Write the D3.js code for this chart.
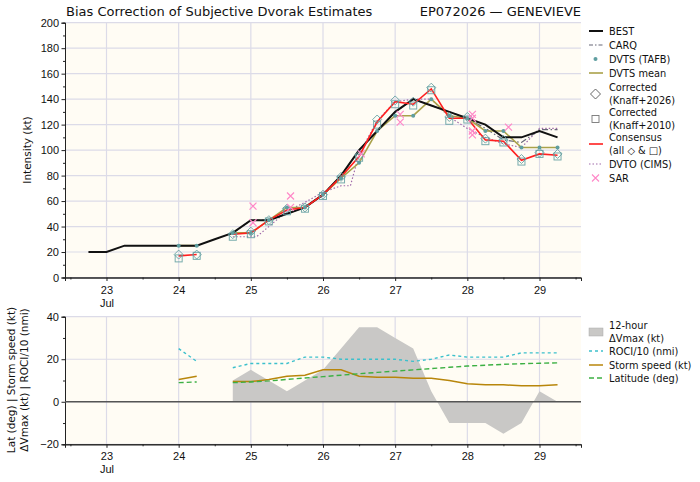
<!DOCTYPE html>
<html><head><meta charset="utf-8">
<script src="https://cdn.jsdelivr.net/npm/d3@7"></script>
<style>
body{margin:0;background:#fff;}
svg{display:block;font-family:"DejaVu Sans",sans-serif;}
</style></head><body>
<svg id="c" width="700" height="482"></svg>
<script>
// ---------------- DATA ----------------
const tickDays = [23, 24, 25, 26, 27, 28, 29];
const tickLabels = ["23\nJul", "24", "25", "26", "27", "28", "29"];
const intensityTicks = [0, 20, 40, 60, 80, 100, 120, 140, 160, 180, 200];
const lowerTicks = [-20, 0, 20, 40];

const bestDays = [22.75,23,23.25,23.5,23.75,24,24.25,24.5,24.75,25,25.25,25.5,25.75,26,26.25,26.5,26.75,27,27.25,27.5,27.75,28,28.25,28.5,28.75,29,29.25];
const best = [20,20,25,25,25,25,25,30,35,45,45,50,55,65,80,100,115,130,140,135,130,125,120,110,110,115,110];

const carqDays = [24.75,25,25.25,25.5,25.75,26,26.25,26.5,26.75,27,27.25,27.5,27.75,28,28.25,28.5,28.75,29,29.25];
const carq = [35,45,45,50,55,65,80,100,115,130,140,135,130,125,117,108,106,116,116];

const fixDays = [24,24.25,24.5,24.75,25,25.25,25.5,25.75,26,26.25,26.5,26.75,27,27.25,27.5,27.75,28,28.25,28.5,28.75,29,29.25];
const dvtsTafb = [25,25,null,35,35,45,55,55,65,78,90,115,127,127,140,127,125,115,115,102,102,102];
const dvtsMean = [25,25,null,35,35,45,55,55,65,78,90,115,127,127,140,127,125,115,115,102,102,102];
const knaff2026 = [18,18,null,34,36,45,54,55,65,79,96,124,139,138,149,126,126,109,108,93,98,97];
const knaff2010 = [15,17,null,32,34,44,52,54,64,77,94,120,136,135,147,123,124,107,106,91,97,95];
const consensus = [17,18,null,34,35,45,53,55,65,79,95,122,138,136,148,125,125,108,107,92,97,96];

const dvtoDays = [24.75,25.08,25.25,25.5,25.75,26,26.25,26.38,26.5,26.75,27,27.25,27.5,27.75,28,28.25,28.5,28.75,29,29.25];
const dvto = [32,32,40,52,59,67,72,72,97,123,138,140,140,126,117,110,105,102,117,117];

const sarDays = [25.03,25.03,25.55,25.55,26.53,27.07,27.07,28.07,28.07,28.07,28.07,28.57];
const sar = [56,43,64,55,97,128,122,128,125,115,112,118];

const dvDays = [24.75,25,25.25,25.5,25.75,26,26.25,26.5,26.75,27,27.25,27.5,27.75,28,28.25,28.5,28.75,29,29.25];
const dVmax12 = [10,15,10,5,10,15,25,35,35,30,25,5,-10,-10,-10,-15,-10,5,0];

const roci10 = [25,19,null,16,18,18,18,21,21,20,20,20,20,19,20,22,21,21,21,23,23,23];
const stormSpeed = [10.5,12,null,9.5,9.5,10.5,12,12.5,15,15,12,11.5,11.5,11,11,10,8.5,8,8,7.5,7.5,8];
const latitude = [9,9.3,null,9,9.3,9.8,10.5,11.2,11.8,12.5,13.2,13.8,14.4,15,15.6,16.2,16.8,17.2,17.6,17.9,18.1,18.3];

// ---------------- STYLE ----------------
const C = {
  bg: "#fffcf4", grid: "#dcdbe8", best: "#111111", carq: "#666677",
  teal: "#5f9ea0", olive: "#aaa24a", red: "#ff2020", dvto: "#a06aaa", sar: "#ff88c8",
  area: "#c9c8c6", roci: "#3cc0cc", speed: "#b8860b", lat: "#3cb043"
};

const svg = d3.select("#c");
const L = 65, R = 581;
const x = d3.scaleLinear().domain([22.425, 29.575]).range([L, R]);
const yTop = d3.scaleLinear().domain([0, 200]).range([277.5, 22.7]);
const yBot = d3.scaleLinear().domain([-20, 40]).range([444.3, 316.7]);

function panel(y, ticks, minorStep, labelY) {
  const [y0, y1] = y.range();
  svg.append("rect").attr("x", L).attr("y", y1).attr("width", R - L).attr("height", y0 - y1).attr("fill", C.bg);
  const g = svg.append("g");
  tickDays.forEach(d => g.append("line").attr("x1", x(d)).attr("x2", x(d)).attr("y1", y1).attr("y2", y0).attr("stroke", C.grid).attr("stroke-width", 1.2));
  ticks.forEach(v => g.append("line").attr("x1", L).attr("x2", R).attr("y1", y(v)).attr("y2", y(v)).attr("stroke", C.grid).attr("stroke-width", 1.2));
  const xa = d3.axisBottom(x).tickValues(tickDays).tickSize(3.5).tickFormat("");
  const xm = d3.axisBottom(x).tickValues(d3.range(22.5, 29.6, 1)).tickSize(2).tickFormat("");
  const ya = d3.axisLeft(y).tickValues(ticks).tickSize(3.5).tickFormat(d => d < 0 ? "\u2212" + Math.abs(d) : d);
  const ymv = d3.range(y.domain()[0], y.domain()[1] + 0.01, minorStep).filter(v => !ticks.includes(v));
  const ym = d3.axisLeft(y).tickValues(ymv).tickSize(2).tickFormat("");
  const gx = svg.append("g").attr("transform", `translate(0,${y0})`).call(xa);
  svg.append("g").attr("transform", `translate(0,${y0})`).call(xm);
  const gy = svg.append("g").attr("transform", `translate(${L},0)`).call(ya);
  svg.append("g").attr("transform", `translate(${L},0)`).call(ym);
  svg.selectAll(".domain").attr("stroke", "#222").attr("stroke-width", 1);
  svg.selectAll(".tick line").attr("stroke", "#222");
  gy.selectAll("text").attr("font-size", 11).attr("fill", "#111").attr("x", -6);
  gx.selectAll(".tick").each(function(d, i) {
    const lines = tickLabels[i].split("\n");
    const t = d3.select(this).append("text").attr("fill", "#111").attr("font-size", 11).attr("text-anchor", "middle");
    lines.forEach((s, k) => t.append("tspan").attr("x", 0).attr("y", labelY + k * 13).text(s));
  });
}

panel(yTop, intensityTicks, 10, 16);
panel(yBot, lowerTicks, 10, 16);

// ---------------- TOP PANEL ----------------
const lineT = () => d3.line().defined(d => d[1] != null).x(d => x(d[0])).y(d => yTop(d[1]));
const zip = (a, b) => a.map((v, i) => [v, b[i]]);
const gTop = svg.append("g");

gTop.append("path").datum(zip(dvtoDays, dvto)).attr("d", lineT()).attr("fill", "none")
  .attr("stroke", C.dvto).attr("stroke-width", 1.2).attr("stroke-dasharray", "1.5,2");
gTop.append("path").datum(zip(carqDays, carq)).attr("d", lineT()).attr("fill", "none")
  .attr("stroke", C.carq).attr("stroke-width", 1.2).attr("stroke-dasharray", "6,2.5,1.5,2.5");
gTop.append("path").datum(zip(fixDays, dvtsMean)).attr("d", lineT()).attr("fill", "none")
  .attr("stroke", C.olive).attr("stroke-width", 1.6);
gTop.append("path").datum(zip(bestDays, best)).attr("d", lineT()).attr("fill", "none")
  .attr("stroke", C.best).attr("stroke-width", 2);
gTop.append("path").datum(zip(fixDays, consensus)).attr("d", lineT()).attr("fill", "none")
  .attr("stroke", C.red).attr("stroke-width", 1.6);

zip(fixDays, knaff2010).filter(d => d[1] != null).forEach(d => {
  gTop.append("rect").attr("x", x(d[0]) - 3.5).attr("y", yTop(d[1]) - 3.5).attr("width", 7).attr("height", 7)
    .attr("fill", "none").attr("stroke", C.teal).attr("stroke-opacity", 0.85).attr("stroke-width", 1);
});
zip(fixDays, knaff2026).filter(d => d[1] != null).forEach(d => {
  gTop.append("path").attr("d", "M0,-4.5L4.5,0L0,4.5L-4.5,0Z").attr("transform", `translate(${x(d[0])},${yTop(d[1])})`)
    .attr("fill", "none").attr("stroke", C.teal).attr("stroke-opacity", 0.85).attr("stroke-width", 1);
});
zip(fixDays, dvtsTafb).filter(d => d[1] != null).forEach(d => {
  gTop.append("circle").attr("cx", x(d[0])).attr("cy", yTop(d[1])).attr("r", 2).attr("fill", C.teal);
});
zip(sarDays, sar).forEach(d => {
  const cx = x(d[0]), cy = yTop(d[1]);
  gTop.append("path").attr("d", `M${cx-3.5},${cy-3.5}L${cx+3.5},${cy+3.5}M${cx-3.5},${cy+3.5}L${cx+3.5},${cy-3.5}`)
    .attr("stroke", C.sar).attr("stroke-width", 1.2);
});

// ---------------- BOTTOM PANEL ----------------
const gBot = svg.append("g");
gBot.append("path").datum(zip(dvDays, dVmax12))
  .attr("d", d3.area().x(d => x(d[0])).y0(yBot(0)).y1(d => yBot(d[1])))
  .attr("fill", C.area).attr("stroke", "none");
gBot.append("line").attr("x1", L).attr("x2", R).attr("y1", yBot(0)).attr("y2", yBot(0)).attr("stroke", "#555").attr("stroke-width", 1.3);
const lineB = d3.line().defined(d => d[1] != null).x(d => x(d[0])).y(d => yBot(d[1]));
gBot.append("path").datum(zip(fixDays, roci10)).attr("d", lineB).attr("fill", "none")
  .attr("stroke", C.roci).attr("stroke-width", 1.4).attr("stroke-dasharray", "3,3");
gBot.append("path").datum(zip(fixDays, stormSpeed)).attr("d", lineB).attr("fill", "none")
  .attr("stroke", C.speed).attr("stroke-width", 1.5);
gBot.append("path").datum(zip(fixDays, latitude)).attr("d", lineB).attr("fill", "none")
  .attr("stroke", C.lat).attr("stroke-width", 1.4).attr("stroke-dasharray", "5,3");

// ---------------- TITLES ----------------
svg.append("text").attr("x", 66).attr("y", 16).attr("font-size", 13).attr("fill", "#111").text("Bias Correction of Subjective Dvorak Estimates");
svg.append("text").attr("x", 581).attr("y", 16).attr("font-size", 13).attr("fill", "#111").attr("text-anchor", "end").text("EP072026 \u2014 GENEVIEVE");
svg.append("text").attr("transform", "translate(31,150) rotate(-90)").attr("text-anchor", "middle").attr("font-size", 10.5).attr("fill", "#111").text("Intensity (kt)");
svg.append("text").attr("transform", "translate(15,380) rotate(-90)").attr("text-anchor", "middle").attr("font-size", 10.5).attr("fill", "#111").text("Lat (deg) | Storm speed (kt)");
svg.append("text").attr("transform", "translate(28,380) rotate(-90)").attr("text-anchor", "middle").attr("font-size", 10.5).attr("fill", "#111").text("\u0394Vmax (kt) | ROCI/10 (nmi)");

// ---------------- LEGENDS ----------------
const legTop = [
  {lab: ["BEST"], y: 31, kind: "line", color: C.best, w: 2},
  {lab: ["CARQ"], y: 45, kind: "line", color: C.carq, w: 1.2, dash: "4,2,1.5,2"},
  {lab: ["DVTS (TAFB)"], y: 59, kind: "dot"},
  {lab: ["DVTS mean"], y: 73, kind: "line", color: C.olive, w: 1.6},
  {lab: ["Corrected", "(Knaff+2026)"], y: 94, kind: "diamond"},
  {lab: ["Corrected", "(Knaff+2010)"], y: 119, kind: "square"},
  {lab: ["Consensus", "(all \u25c7 & \u25a1)"], y: 144, kind: "line", color: C.red, w: 1.6},
  {lab: ["DVTO (CIMS)"], y: 164, kind: "line", color: C.dvto, w: 1.2, dash: "1.5,2"},
  {lab: ["SAR"], y: 178, kind: "x"}
];
const legBot = [
  {lab: ["12-hour", "\u0394Vmax (kt)"], y: 332, kind: "rect"},
  {lab: ["ROCI/10 (nmi)"], y: 351, kind: "line", color: C.roci, w: 1.4, dash: "3,3"},
  {lab: ["Storm speed (kt)"], y: 365, kind: "line", color: C.speed, w: 1.5},
  {lab: ["Latitude (deg)"], y: 378, kind: "line", color: C.lat, w: 1.4, dash: "5,3"}
];
function legend(items) {
  const g = svg.append("g");
  const x0 = 589, x1 = 602, tx = 609;
  items.forEach(it => {
    const cx = (x0 + x1) / 2, cy = it.y;
    if (it.kind === "line") g.append("line").attr("x1", x0).attr("x2", x1 + 1).attr("y1", cy).attr("y2", cy)
      .attr("stroke", it.color).attr("stroke-width", it.w).attr("stroke-dasharray", it.dash || null);
    if (it.kind === "dot") g.append("circle").attr("cx", cx).attr("cy", cy).attr("r", 2).attr("fill", C.teal);
    if (it.kind === "diamond") g.append("path").attr("d", "M0,-5L5,0L0,5L-5,0Z").attr("transform", `translate(${cx},${cy})`).attr("fill", "none").attr("stroke", "#555").attr("stroke-width", 0.9);
    if (it.kind === "square") g.append("rect").attr("x", cx - 3.5).attr("y", cy - 3.5).attr("width", 7).attr("height", 7).attr("fill", "none").attr("stroke", "#777").attr("stroke-width", 0.9);
    if (it.kind === "x") g.append("path").attr("d", `M${cx-3.5},${cy-3.5}L${cx+3.5},${cy+3.5}M${cx-3.5},${cy+3.5}L${cx+3.5},${cy-3.5}`).attr("stroke", C.sar).attr("stroke-width", 1.1);
    if (it.kind === "rect") g.append("rect").attr("x", x0).attr("y", cy - 4).attr("width", x1 - x0 + 1).attr("height", 8).attr("fill", C.area).attr("stroke", "#aaa").attr("stroke-width", 0.5);
    const n = it.lab.length;
    it.lab.forEach((s, k) => g.append("text").attr("x", tx).attr("y", cy + 3.5 + (k - (n - 1) / 2) * 12.5)
      .attr("font-size", 9.8).attr("fill", "#111").text(s));
  });
}
legend(legTop);
legend(legBot);
</script>
</body></html>
